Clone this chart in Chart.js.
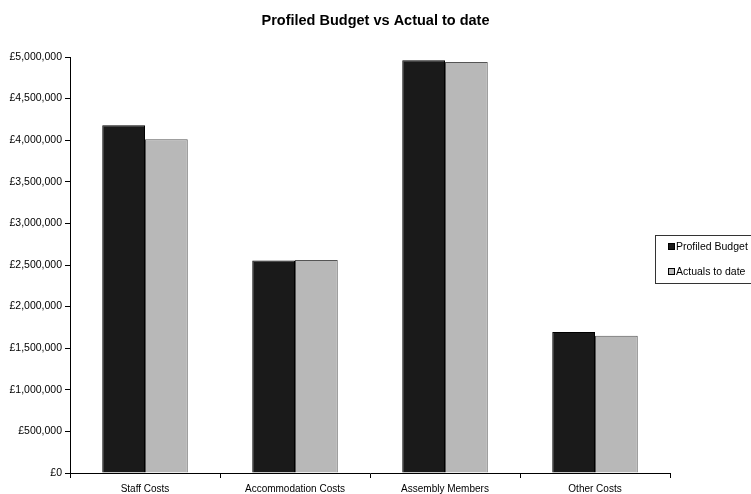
<!DOCTYPE html>
<html lang="en">
  <head>
    <meta charset="UTF-8" />
    <title>Profiled Budget vs Actual to date</title>
    <script src="https://cdn.jsdelivr.net/npm/chart.js"></script>
    <style>
      html, body {
        margin: 0;
        padding: 0;
        background: #fff;
      }
      .chart-container {
        width: 751px;
        height: 494px;
      }
    </style>
  </head>
  <body>
    <div class="chart-container">
      <canvas id="budgetChart"></canvas>
    </div>

    <script>
      const categories = [
        "Staff Costs",
        "Accommodation Costs",
        "Assembly Members",
        "Other Costs",
      ];
      const profiledBudget = [4180000, 2553000, 4960000, 1695000];
      const actualsToDate = [4010000, 2560000, 4940000, 1651000];
      const yTicks = { min: 0, max: 5000000, step: 500000 };

      const fontFamily = "'Liberation Sans', Arial, sans-serif";

      const formatPounds = (v) => "£" + Number(v).toLocaleString("en-GB");

      // legend box drawn on top, overlapping the right of the plot like the original
      const boxLegend = {
        id: "boxLegend",
        afterDraw(chart) {
          const ctx = chart.ctx;
          const x = 655.5;
          const y = 235.5;
          ctx.save();
          ctx.fillStyle = "#fff";
          ctx.fillRect(x, y, 100, 48);
          ctx.strokeStyle = "#333";
          ctx.lineWidth = 1;
          ctx.strokeRect(x, y, 100, 48);
          ctx.font = "10.5px " + fontFamily;
          ctx.textBaseline = "middle";
          chart.data.datasets.forEach((ds, i) => {
            const cy = 247 + i * 25;
            ctx.fillStyle = ds.backgroundColor;
            ctx.fillRect(668, cy - 3, 6, 6);
            ctx.strokeStyle = "#000";
            ctx.strokeRect(668.5, cy - 3.5, 6, 6);
            ctx.fillStyle = "#000";
            ctx.fillText(ds.label, 676, cy + 0.5);
          });
          ctx.restore();
        },
      };

      const config = {
        type: "bar",
        data: {
          labels: categories,
          datasets: [
            {
              label: "Profiled Budget",
              data: profiledBudget,
              backgroundColor: "#1a1a1a",
              borderColor: "#000",
              borderWidth: 1,
              categoryPercentage: 0.57,
              barPercentage: 1.0,
            },
            {
              label: "Actuals to date",
              data: actualsToDate,
              backgroundColor: "#b8b8b8",
              borderColor: "#555",
              borderWidth: 1,
              categoryPercentage: 0.57,
              barPercentage: 1.0,
            },
          ],
        },
        options: {
          responsive: false,
          animation: false,
          devicePixelRatio: 1,
          layout: {
            padding: 0,
          },
          plugins: {
            legend: { display: false },
            tooltip: { enabled: false },
            title: {
              display: true,
              text: "Profiled Budget vs Actual to date",
              color: "#000",
              font: { family: fontFamily, size: 14.5, weight: "bold" },
              padding: { top: 12, bottom: 27.6 },
            },
          },
          scales: {
            x: {
              grid: {
                offset: true,
                drawOnChartArea: false,
                drawTicks: true,
                tickLength: 5,
                color: "#000",
              },
              border: { color: "#000", width: 1 },
              ticks: {
                color: "#000",
                font: { family: fontFamily, size: 10 },
                padding: 5,
                maxRotation: 0,
                autoSkip: false,
              },
              afterFit(scale) {
                scale.height = 21;
              },
            },
            y: {
              min: yTicks.min,
              max: yTicks.max,
              grid: {
                drawOnChartArea: false,
                drawTicks: true,
                tickLength: 5,
                color: "#000",
              },
              border: { color: "#000", width: 1 },
              ticks: {
                stepSize: yTicks.step,
                color: "#000",
                font: { family: fontFamily, size: 10.5 },
                padding: 3,
                callback: formatPounds,
              },
              afterFit(scale) {
                scale.width = 70;
              },
            },
            // empty right-hand axis that only reserves the space under the legend
            yRight: {
              position: "right",
              display: true,
              grid: { display: false },
              border: { display: false },
              ticks: { display: false },
              afterFit(scale) {
                scale.width = 81;
              },
            },
          },
        },
        plugins: [boxLegend],
      };

      window.onload = function () {
        const canvas = document.getElementById("budgetChart");
        canvas.width = 751;
        canvas.height = 494;
        new Chart(canvas.getContext("2d"), config);
      };
    </script>
  </body>
</html>
